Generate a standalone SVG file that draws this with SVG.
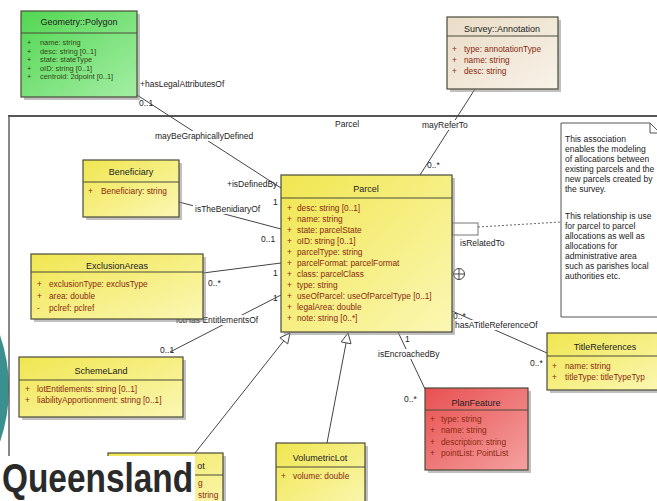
<svg xmlns="http://www.w3.org/2000/svg" width="657" height="501" viewBox="0 0 657 501">
<defs>
<linearGradient id="gy" x1="0" y1="0" x2="1" y2="1"><stop offset="0" stop-color="#f0e650"/><stop offset="1" stop-color="#fbf7b4"/></linearGradient>
<linearGradient id="gg" x1="0" y1="0" x2="1" y2="1"><stop offset="0" stop-color="#52d652"/><stop offset="1" stop-color="#a4eea4"/></linearGradient>
<linearGradient id="gr" x1="0" y1="0" x2="1" y2="1"><stop offset="0" stop-color="#e85050"/><stop offset="1" stop-color="#f5a0a0"/></linearGradient>
<linearGradient id="gb" x1="0" y1="0" x2="1" y2="1"><stop offset="0" stop-color="#eadcc6"/><stop offset="1" stop-color="#f8f2e8"/></linearGradient>
</defs>
<style>
.box{stroke:#4a4a3a;stroke-width:1.2}
.sh{fill:#8c8c8c;opacity:.55}
.hd{stroke:#4a4a3a;stroke-width:1}
.t{font-family:"Liberation Sans",Arial,sans-serif;font-size:9px;fill:#222;text-anchor:middle}
.a{font-family:"Liberation Sans",Arial,sans-serif;font-size:8.3px;fill:#8a2a10}
.ag{font-family:"Liberation Sans",Arial,sans-serif;font-size:7.4px;fill:#2f4a14}
.l{font-family:"Liberation Sans",Arial,sans-serif;font-size:8.5px;fill:#222}
.n{font-family:"Liberation Sans",Arial,sans-serif;font-size:8.5px;fill:#222}
.ln{stroke:#444;stroke-width:1;fill:none}
.bg{fill:#fff}
</style>
<rect x="0" y="0" width="657" height="501" fill="#fff"/>
<path d="M0,335 Q18,388 0,442 Z" fill="#3a8f8f"/>
<g id="package-Parcel">
<line x1="8" y1="116" x2="657" y2="116" stroke="#555" stroke-width="2"/>
<line x1="9" y1="116" x2="9" y2="501" stroke="#555" stroke-width="1.4"/>
<text class="l" x="335" y="127">Parcel</text>
</g>
<g id="connectors">
<line class="ln" x1="137" y1="95" x2="281" y2="188"/>
<line class="ln" x1="475" y1="89" x2="420" y2="175"/>
<line class="ln" x1="179" y1="202" x2="281" y2="229"/>
<line class="ln" x1="203" y1="273" x2="281" y2="263"/>
<line class="ln" x1="281" y1="295" x2="170" y2="352"/>
<line class="ln" x1="398" y1="332" x2="425" y2="389"/>
<line class="ln" x1="452" y1="311" x2="547" y2="353"/>
<line class="ln" x1="195" y1="453" x2="283.8" y2="340.8"/>
<polygon points="290,333 287.7,343.9 279.9,337.7" fill="#fff" stroke="#444" stroke-width="1"/>
<line class="ln" x1="327" y1="443" x2="346.1" y2="342.8"/>
<polygon points="348,333 351,343.8 341.2,341.9" fill="#fff" stroke="#444" stroke-width="1"/>
<rect x="452" y="223" width="26" height="12" fill="#fff" stroke="#777" stroke-width="1"/>
<line x1="478" y1="227" x2="561" y2="222" stroke="#666" stroke-width="1" stroke-dasharray="2,2"/>
<circle cx="459" cy="274" r="5.5" fill="#fff" stroke="#444" stroke-width="1"/>
<line x1="453.5" y1="274" x2="464.5" y2="274" stroke="#444"/>
<line x1="459" y1="268.5" x2="459" y2="279.5" stroke="#444"/>
<rect class="bg" x="153" y="131" width="111" height="10"/>
<text class="l" x="155" y="139">mayBeGraphicallyDefined</text>
<rect class="bg" x="421" y="120" width="52" height="10"/>
<text class="l" x="422" y="128">mayReferTo</text>
<rect class="bg" x="193" y="204" width="76" height="10"/>
<text class="l" x="195" y="212">isTheBenidiaryOf</text>
<rect class="bg" x="174" y="315" width="90" height="10"/>
<text class="l" x="176" y="323">lotHas EntitlementsOf</text>
<rect class="bg" x="376" y="349" width="68" height="10"/>
<text class="l" x="378" y="357">isEncroachedBy</text>
<rect class="bg" x="453" y="320" width="92" height="10"/>
<text class="l" x="455" y="328">hasATitleReferenceOf</text>
<text class="l" x="140" y="87">+hasLegalAttributesOf</text>
<text class="l" x="139" y="106">0..1</text>
<text class="l" x="227" y="187">+isDefinedBy</text>
<text class="l" x="273" y="205">1</text>
<text class="l" x="261" y="242">0..1</text>
<text class="l" x="273" y="276">1</text>
<text class="l" x="273" y="301">1</text>
<text class="l" x="208" y="286">0..*</text>
<text class="l" x="160" y="353">0..1</text>
<text class="l" x="427" y="168">0..*</text>
<text class="l" x="460" y="246">isRelatedTo</text>
<text class="l" x="453" y="319">0..*</text>
<text class="l" x="530" y="366">0..*</text>
<text class="l" x="405" y="342">1</text>
<text class="l" x="404" y="402">0..*</text>
</g>
<g id="Geometry-Polygon">
<rect class="sh" x="24" y="14" width="116" height="86"/>
<rect class="box" x="21" y="11" width="116" height="86" fill="url(#gg)"/>
<line class="hd" x1="21" y1="33" x2="137" y2="33"/>
<text class="t" x="79" y="25">Geometry::Polygon</text>
<text class="ag" x="27" y="45">+</text><text class="ag" x="40" y="45">name: string</text>
<text class="ag" x="27" y="53.5">+</text><text class="ag" x="40" y="53.5">desc: string [0..1]</text>
<text class="ag" x="27" y="62">+</text><text class="ag" x="40" y="62">state: stateType</text>
<text class="ag" x="27" y="70.5">+</text><text class="ag" x="40" y="70.5">oID: string [0..1]</text>
<text class="ag" x="27" y="79">+</text><text class="ag" x="40" y="79">centroid: 2dpoint [0..1]</text>
</g>
<g id="Survey-Annotation">
<rect class="sh" x="450" y="20" width="111" height="72"/>
<rect class="box" x="447" y="17" width="111" height="72" fill="url(#gb)"/>
<line class="hd" x1="447" y1="36" x2="558" y2="36"/>
<text class="t" x="502" y="32">Survey::Annotation</text>
<text class="a" x="452" y="52">+</text><text class="a" x="464" y="52">type: annotationType</text>
<text class="a" x="452" y="63">+</text><text class="a" x="464" y="63">name: string</text>
<text class="a" x="452" y="74">+</text><text class="a" x="464" y="74">desc: string</text>
</g>
<g id="note">
<path d="M561,123 H650 L660,133 V317 H561 Z" fill="#fff" stroke="#555" stroke-width="1"/>
<path d="M650,123 V133 H660" fill="none" stroke="#555" stroke-width="1"/>
<text class="n" x="565" y="142">This association</text>
<text class="n" x="565" y="152">enables the modeling</text>
<text class="n" x="565" y="162">of allocations between</text>
<text class="n" x="565" y="172">existing parcels and the</text>
<text class="n" x="565" y="182">new parcels created by</text>
<text class="n" x="565" y="192">the survey.</text>
<text class="n" x="565" y="219">This relationship is use</text>
<text class="n" x="565" y="229">for parcel to parcel</text>
<text class="n" x="565" y="239">allocations as well as</text>
<text class="n" x="565" y="249">allocations for</text>
<text class="n" x="565" y="259">administrative area</text>
<text class="n" x="565" y="269">such as parishes local</text>
<text class="n" x="565" y="279">authorities etc.</text>
</g>
<g id="Beneficiary">
<rect class="sh" x="86" y="163" width="96" height="57"/>
<rect class="box" x="83" y="160" width="96" height="57" fill="url(#gy)"/>
<line class="hd" x1="83" y1="182" x2="179" y2="182"/>
<text class="t" x="131" y="175">Beneficiary</text>
<text class="a" x="88" y="194">+</text><text class="a" x="101" y="194">Beneficiary: string</text>
</g>
<g id="Parcel">
<rect class="sh" x="284" y="178" width="171" height="157"/>
<rect class="box" x="281" y="175" width="171" height="157" fill="url(#gy)"/>
<line class="hd" x1="281" y1="198" x2="452" y2="198"/>
<text class="t" x="366" y="192">Parcel</text>
<text class="a" x="287" y="211">+</text><text class="a" x="297" y="211">desc: string [0..1]</text>
<text class="a" x="287" y="222">+</text><text class="a" x="297" y="222">name: string</text>
<text class="a" x="287" y="233">+</text><text class="a" x="297" y="233">state: parcelState</text>
<text class="a" x="287" y="244">+</text><text class="a" x="297" y="244">oID: string [0..1]</text>
<text class="a" x="287" y="255">+</text><text class="a" x="297" y="255">parcelType: string</text>
<text class="a" x="287" y="265.5">+</text><text class="a" x="297" y="265.5">parcelFormat: parcelFormat</text>
<text class="a" x="287" y="276.5">+</text><text class="a" x="297" y="276.5">class: parcelClass</text>
<text class="a" x="287" y="287.5">+</text><text class="a" x="297" y="287.5">type: string</text>
<text class="a" x="287" y="298.5">+</text><text class="a" x="297" y="298.5">useOfParcel: useOfParcelType [0..1]</text>
<text class="a" x="287" y="309.5">+</text><text class="a" x="297" y="309.5">legalArea: double</text>
<text class="a" x="287" y="320.5">+</text><text class="a" x="297" y="320.5">note: string [0..*]</text>
</g>
<g id="ExclusionAreas">
<rect class="sh" x="34" y="257" width="172" height="65"/>
<rect class="box" x="31" y="254" width="172" height="65" fill="url(#gy)"/>
<line class="hd" x1="31" y1="272" x2="203" y2="272"/>
<text class="t" x="117" y="269">ExclusionAreas</text>
<text class="a" x="37" y="287">+</text><text class="a" x="49" y="287">exclusionType: exclusType</text>
<text class="a" x="37" y="299">+</text><text class="a" x="49" y="299">area: double</text>
<text class="a" x="37" y="311">-</text><text class="a" x="49" y="311">pclref: pclref</text>
</g>
<g id="SchemeLand">
<rect class="sh" x="22" y="360" width="164" height="60"/>
<rect class="box" x="19" y="357" width="164" height="60" fill="url(#gy)"/>
<line class="hd" x1="19" y1="380" x2="183" y2="380"/>
<text class="t" x="101" y="374">SchemeLand</text>
<text class="a" x="25" y="392">+</text><text class="a" x="37" y="392">lotEntitlements: string [0..1]</text>
<text class="a" x="25" y="403">+</text><text class="a" x="37" y="403">liabilityApportionment: string [0..1]</text>
</g>
<g id="TitleReferences">
<rect class="sh" x="550" y="336" width="115" height="57"/>
<rect class="box" x="547" y="333" width="115" height="57" fill="url(#gy)"/>
<line class="hd" x1="547" y1="356" x2="662" y2="356"/>
<text class="t" x="605" y="350">TitleReferences</text>
<text class="a" x="552" y="369">+</text><text class="a" x="565" y="369">name: string</text>
<text class="a" x="552" y="380">+</text><text class="a" x="565" y="380">titleType: titleTypeTyp</text>
</g>
<g id="PlanFeature">
<rect class="sh" x="428" y="391" width="103" height="82"/>
<rect class="box" x="425" y="388" width="103" height="82" fill="url(#gr)"/>
<line class="hd" x1="425" y1="410" x2="528" y2="410"/>
<text class="t" x="476" y="406">PlanFeature</text>
<text class="a" x="430" y="422">+</text><text class="a" x="441" y="422">type: string</text>
<text class="a" x="430" y="433">+</text><text class="a" x="441" y="433">name: string</text>
<text class="a" x="430" y="445">+</text><text class="a" x="441" y="445">description: string</text>
<text class="a" x="430" y="456">+</text><text class="a" x="441" y="456">pointList: PointList</text>
</g>
<g id="VolumetricLot">
<rect class="sh" x="279" y="446" width="89" height="70"/>
<rect class="box" x="276" y="443" width="89" height="70" fill="url(#gy)"/>
<line class="hd" x1="276" y1="467" x2="365" y2="467"/>
<text class="t" x="320" y="461">VolumetricLot</text>
<text class="a" x="281" y="479">+</text><text class="a" x="293" y="479">volume: double</text>
</g>
<g id="Lot-partial">
<rect class="sh" x="111" y="456" width="115" height="60"/>
<rect class="box" x="108" y="453" width="115" height="60" fill="url(#gy)"/>
<line class="hd" x1="108" y1="475" x2="223" y2="475"/>
<text class="t" x="201" y="469">ot</text>
<text class="a" x="198" y="486">g</text>
<text class="a" x="198" y="498">string</text>
</g>
<g id="Queensland">
<rect x="0" y="456" width="195" height="45" fill="#fff"/>
<text transform="translate(2,492) scale(0.835,1)" x="0" y="0" font-family="Liberation Sans, Arial, sans-serif" font-weight="bold" font-size="40" fill="#2a2a2a">Queensland</text>
</g>
</svg>
